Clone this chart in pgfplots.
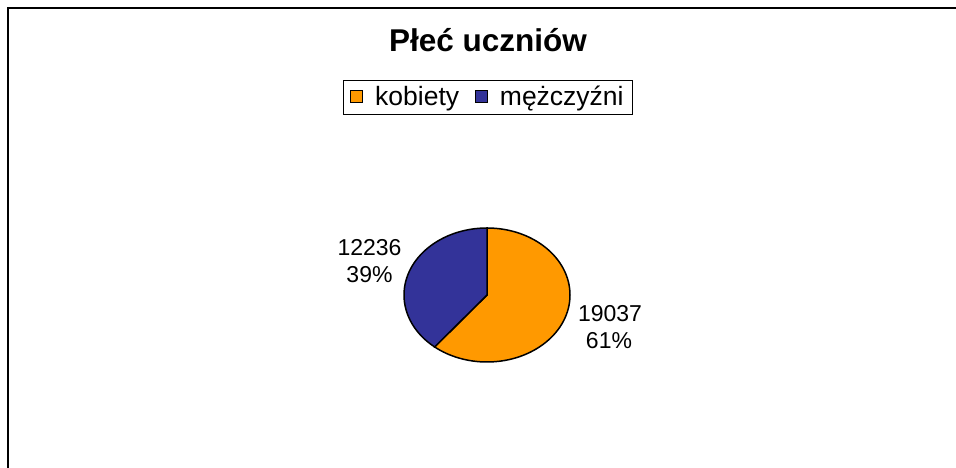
\documentclass[border=0pt]{standalone}
\usepackage{fontspec}
\setmainfont{Liberation Sans}
\usepackage{pgfplots}
\pgfplotsset{compat=1.18}
\definecolor{kob}{HTML}{FF9900}
\definecolor{mez}{HTML}{333399}
\begin{document}
\begin{tikzpicture}
% data
\def\vK{19037}
\def\vM{12236}
\pgfkeys{/pgf/fpu=true, /pgf/fpu/output format=fixed}
\pgfmathsetmacro\aK{360*\vK/(\vK+\vM)}
\pgfkeys{/pgf/fpu=false}
\begin{axis}[
  width=956pt, height=468pt, scale only axis,
  xmin=0, xmax=956, ymin=0, ymax=468,
  hide axis, clip=false,
  legend columns=2,
  legend style={at={(axis cs:488,371)}, anchor=center, draw=black, line width=0.8pt,
    font=\fontsize{26.5}{30}\selectfont, inner xsep=7pt, inner ysep=4.5pt,
    /tikz/every odd column/.append style={column sep=10pt},
    /tikz/every even column/.append style={column sep=14pt}},
  legend image code/.code={\draw[#1, draw=black, line width=0.8pt] (0pt,-5pt) rectangle (12pt,7pt);},
]
\addlegendimage{fill=kob}
\addlegendentry{kobiety}
\addlegendimage{fill=mez}
\addlegendentry{mężczyźni}
% pie slices
\filldraw[fill=kob, draw=black, line width=1.5pt] (axis cs:487,173) -- ++(0pt,67pt)
  arc[start angle=90, end angle={90-\aK}, x radius=83pt, y radius=67pt] -- cycle;
\filldraw[fill=mez, draw=black, line width=1.5pt] (axis cs:487,173) -- ++(0pt,67pt)
  arc[start angle=90, end angle={90-\aK+360}, x radius=83pt, y radius=67pt] -- cycle;
% labels
\node[anchor=base, font=\fontsize{23}{27}\selectfont, inner sep=0pt] at (axis cs:369.5,212) {12236};
\node[anchor=base, font=\fontsize{23}{27}\selectfont, inner sep=0pt] at (axis cs:369.5,185) {39\%};
\node[anchor=base, font=\fontsize{23}{27}\selectfont, inner sep=0pt] at (axis cs:610,146) {19037};
\node[anchor=base, font=\fontsize{23}{27}\selectfont, inner sep=0pt] at (axis cs:609,119) {61\%};
% title
\node[anchor=base, font=\bfseries\fontsize{31.5}{36}\selectfont, inner sep=0pt] at (axis cs:488,416) {Płeć uczniów};
% frame
\draw[black, line width=2pt] (axis cs:8,-2) -- (axis cs:8,460) -- (axis cs:962,460);
\end{axis}
\pgfresetboundingbox
\path (0,0) rectangle (956pt,468pt);
\end{tikzpicture}
\end{document}
